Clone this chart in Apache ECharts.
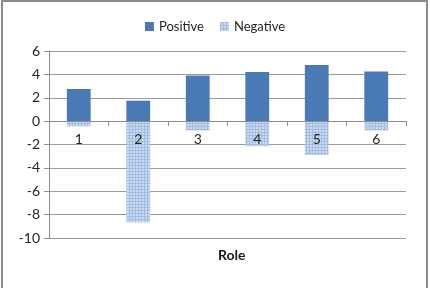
<!DOCTYPE html>
<html>
<head>
<meta charset="utf-8">
<script src="https://cdn.jsdelivr.net/npm/echarts@6/dist/echarts.min.js"></script>
<style>
  html, body { margin: 0; padding: 0; background: #fff; }
  #chart { width: 430px; height: 288px; }
</style>
</head>
<body>
<div id="chart"></div>
<script>
// data
var roles = ['1', '2', '3', '4', '5', '6'];
var positive = [2.75, 1.75, 3.9, 4.2, 4.8, 4.25];
var negative = [-0.45, -8.65, -0.8, -2.15, -2.9, -0.8];

// light blue checkered fill like the Excel pattern
function makePattern() {
    var c = document.createElement('canvas');
    c.width = 3;
    c.height = 3;
    var ctx = c.getContext('2d');
    ctx.fillStyle = '#cbdbef';
    ctx.fillRect(0, 0, 3, 3);
    ctx.fillStyle = '#a3bde2';
    ctx.fillRect(0, 0, 1, 3);
    ctx.fillRect(0, 0, 3, 1);
    return c;
}

var font = 'Lato, "Open Sans", sans-serif';
var chart = echarts.init(document.getElementById('chart'));

// grid spans 6 .. -10 over 187px, so zero sits 117px above the bottom edge
chart.setOption({
    animation: false,
    textStyle: { fontFamily: font },
    graphic: [{
        type: 'rect',
        shape: { x: 2, y: 1, width: 425, height: 300 },
        style: { fill: 'none', stroke: '#8c8c8c', lineWidth: 2 },
        silent: true
    }],
    title: {
        text: 'Role',
        left: 213,
        top: 243,
        textStyle: { fontFamily: font, fontSize: 14, fontWeight: 'bold', color: '#1a1a1a' }
    },
    legend: {
        top: 15,
        left: 'center',
        itemWidth: 9,
        itemHeight: 9,
        itemGap: 16,
        icon: 'rect',
        textStyle: { fontFamily: font, fontSize: 13, color: '#262626' },
        data: ['Positive', 'Negative']
    },
    grid: { left: 49, right: 24, top: 51, bottom: 50, containLabel: false, outerBoundsMode: 'none' },
    xAxis: {
        type: 'category',
        data: roles,
        offset: -117,
        z: 5,
        axisLine: { onZero: false, lineStyle: { color: '#8c8c8c', width: 1 } },
        axisTick: { show: true, length: 5, lineStyle: { color: '#8c8c8c' } },
        axisLabel: { fontFamily: font, fontSize: 14, color: '#262626', margin: 11 },
        splitLine: { show: false }
    },
    yAxis: {
        type: 'value',
        min: -10,
        max: 6,
        interval: 2,
        axisLine: { show: true, lineStyle: { color: '#8c8c8c' } },
        axisTick: { show: true, length: 5, lineStyle: { color: '#8c8c8c' } },
        axisLabel: { fontFamily: font, fontSize: 14, color: '#262626', margin: 9 },
        splitLine: { show: true, lineStyle: { color: '#9c9c9c', width: 1 } }
    },
    series: [
        {
            name: 'Positive',
            type: 'bar',
            data: positive,
            barWidth: '40%',
            barGap: '-100%',
            itemStyle: { color: '#4a7ab6' }
        },
        {
            name: 'Negative',
            type: 'bar',
            data: negative,
            barWidth: '40%',
            itemStyle: { color: { image: makePattern(), repeat: 'repeat' } }
        }
    ]
});
</script>
</body>
</html>
